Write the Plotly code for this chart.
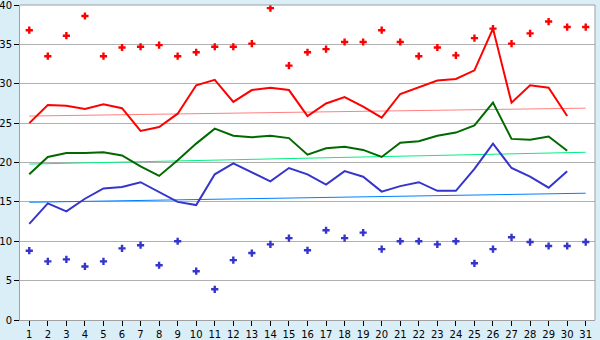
import plotly.graph_objects as go

days = list(range(1, 32))
tick_labels = [str(d) for d in days]
y_ticks = [0, 5, 10, 15, 20, 25, 30, 35, 40]

max_points = [36.8, 33.5, 36.1, 38.6, 33.5, 34.6, 34.7, 34.9, 33.5, 34.0,
              34.7, 34.7, 35.1, 39.6, 32.3, 34.0, 34.4, 35.3, 35.3, 36.8,
              35.3, 33.5, 34.6, 33.6, 35.8, 37.0, 35.1, 36.4, 37.9, 37.2, 37.2]
min_points = [8.8, 7.45, 7.7, 6.8, 7.45, 9.1, 9.5, 6.95, 10.0, 6.2,
              3.9, 7.6, 8.5, 9.6, 10.4, 8.85, 11.4, 10.4, 11.1, 9.0,
              10.0, 10.0, 9.6, 10.0, 7.2, 9.0, 10.5, 9.9, 9.4, 9.4, 9.9]
max_line = [25.0, 27.3, 27.2, 26.8, 27.4, 26.9, 24.0, 24.5, 26.2, 29.8,
            30.5, 27.7, 29.2, 29.5, 29.2, 25.9, 27.5, 28.3, 27.1, 25.7,
            28.7, 29.6, 30.4, 30.6, 31.7, 37.0, 27.6, 29.8, 29.5, 25.9, None]
mean_line = [18.5, 20.7, 21.2, 21.2, 21.3, 20.9, 19.5, 18.3, 20.3, 22.4,
             24.3, 23.4, 23.2, 23.4, 23.1, 21.0, 21.8, 22.0, 21.6, 20.7,
             22.5, 22.7, 23.4, 23.8, 24.7, 27.6, 23.0, 22.9, 23.3, 21.5, None]
min_line = [12.2, 14.8, 13.8, 15.4, 16.7, 16.9, 17.5, 16.2, 15.0, 14.6,
            18.5, 19.9, 18.8, 17.6, 19.3, 18.5, 17.2, 18.9, 18.2, 16.3,
            17.0, 17.5, 16.4, 16.4, 19.2, 22.4, 19.3, 18.2, 16.8, 18.9, None]

trend_days = [1, 31]
max_trend = [25.9, 26.9]
mean_trend = [19.8, 21.3]
min_trend = [14.95, 16.1]

RED = "#FF0000"
GREEN = "#006A00"
BLUE = "#3535CC"

fig = go.Figure()
fig.add_trace(go.Scatter(x=trend_days, y=max_trend, mode="lines",
                         line=dict(color="#FF8080", width=1)))
fig.add_trace(go.Scatter(x=trend_days, y=mean_trend, mode="lines",
                         line=dict(color="#00F080", width=1)))
fig.add_trace(go.Scatter(x=trend_days, y=min_trend, mode="lines",
                         line=dict(color="#0080FF", width=1)))
fig.add_trace(go.Scatter(x=days, y=max_line, mode="lines",
                         line=dict(color=RED, width=2)))
fig.add_trace(go.Scatter(x=days, y=mean_line, mode="lines",
                         line=dict(color=GREEN, width=2)))
fig.add_trace(go.Scatter(x=days, y=min_line, mode="lines",
                         line=dict(color=BLUE, width=2)))
fig.add_trace(go.Scatter(x=days, y=max_points, mode="markers",
                         marker=dict(color=RED, symbol="cross", size=6, line=dict(width=0))))
fig.add_trace(go.Scatter(x=days, y=min_points, mode="markers",
                         marker=dict(color=BLUE, symbol="cross", size=6, line=dict(width=0))))

fig.update_layout(
    width=600, height=340,
    margin=dict(l=20, r=5, t=5, b=20),
    paper_bgcolor="#D9EEF6",
    plot_bgcolor="#FFFFFF",
    showlegend=False,
    font=dict(family="DejaVu Sans", size=10, color="#000000"),
    xaxis=dict(range=[0.5, 31.5], tickmode="array", tickvals=days, ticktext=tick_labels,
               showgrid=False, zeroline=False, showline=True, linecolor="#A0A0A0",
               ticks="outside", ticklen=5, tickcolor="#000000", ticklabelstandoff=0,
               ticklabeloverflow="allow", automargin=False),
    yaxis=dict(range=[0, 40], tickmode="array", tickvals=y_ticks,
               ticktext=[str(v) for v in y_ticks],
               showgrid=True, gridcolor="#B0B0B0", gridwidth=1,
               zeroline=False, showline=True, linecolor="#A0A0A0",
               ticks="outside", ticklen=5, tickcolor="#000000", ticklabelstandoff=0,
               ticklabeloverflow="allow", automargin=False),
)
# right and top border of plot area
fig.add_shape(type="line", xref="paper", yref="paper", x0=1, x1=1, y0=0, y1=1,
              line=dict(color="#A0A0A0", width=1))
fig.add_shape(type="line", xref="paper", yref="paper", x0=0, x1=1, y0=1, y1=1,
              line=dict(color="#A0A0A0", width=1))

fig.write_html("out.html")
